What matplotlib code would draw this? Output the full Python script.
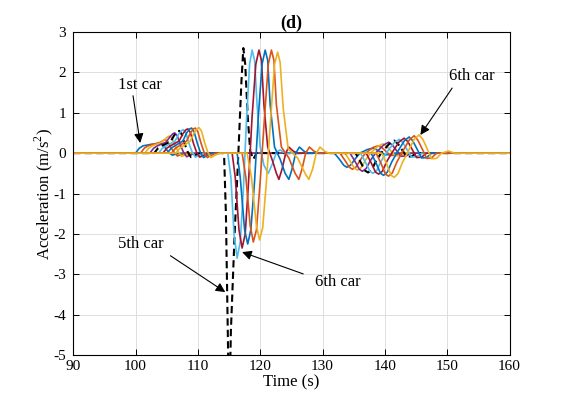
import numpy as np
import matplotlib
matplotlib.use('Agg')
import matplotlib.pyplot as plt

plt.rcParams['font.family'] = ['Liberation Serif', 'DejaVu Serif']
plt.rcParams['mathtext.fontset'] = 'custom'
plt.rcParams['mathtext.rm'] = 'Liberation Serif'
plt.rcParams['axes.unicode_minus'] = False

# acceleration traces, one (time, accel) list per car
t1 = [90, 100.0, 100.6, 101.2, 102.6, 103.2, 103.7, 104.0, 104.4, 104.9, 105.4, 105.9, 106.6, 107.3,
      131.9, 132.7, 133.4, 133.9, 134.5, 135.2, 136.0, 137.2, 138.0, 138.6, 139.4, 140.0, 140.8, 141.6, 160]
a1 = [0, 0, 0.12, 0.18, 0.22, 0.23, 0.245, 0.25, 0.21, 0.10, 0.01, -0.05, -0.02, 0,
      0, -0.15, -0.30, -0.35, -0.30, -0.15, 0, 0.09, 0.12, 0.09, 0.02, -0.04, -0.04, 0, 0]

t2 = [90, 100.8, 101.4, 102.0, 103.4, 104.0, 104.5, 104.8, 105.2, 105.7, 106.2, 106.7, 107.4, 108.1,
      132.8, 133.6, 134.3, 134.8, 135.4, 136.1, 136.9, 138.1, 138.9, 139.5, 140.3, 140.9, 141.7, 142.5, 160]
a2 = [0, 0, 0.12, 0.18, 0.24, 0.27, 0.32, 0.33, 0.28, 0.13, 0.02, -0.07, -0.03, 0,
      0, -0.18, -0.35, -0.40, -0.34, -0.16, 0, 0.14, 0.18, 0.14, 0.03, -0.06, -0.05, 0, 0]

t3 = [90, 101.5, 102.1, 102.7, 104.1, 104.7, 105.2, 105.5, 105.9, 106.4, 106.9, 107.4, 108.1, 108.8,
      133.6, 134.4, 135.1, 135.6, 136.2, 136.9, 137.7, 138.9, 139.7, 140.3, 141.1, 141.7, 142.5, 143.3, 160]
a3 = [0, 0, 0.12, 0.18, 0.26, 0.34, 0.41, 0.42, 0.36, 0.17, 0.02, -0.08, -0.04, 0,
      0, -0.19, -0.37, -0.42, -0.36, -0.17, 0, 0.17, 0.23, 0.17, 0.03, -0.07, -0.06, 0, 0]

t4 = [90, 102.3, 102.9, 103.5, 104.9, 105.5, 106.0, 106.3, 106.7, 107.2, 107.7, 108.2, 108.9, 109.6,
      134.4, 135.2, 135.9, 136.4, 137.0, 137.7, 138.5, 139.8, 140.6, 141.2, 142.0, 142.6, 143.4, 144.2, 160]
a4 = [0, 0, 0.12, 0.18, 0.27, 0.40, 0.48, 0.50, 0.43, 0.20, 0.02, -0.09, -0.04, 0,
      0, -0.20, -0.40, -0.45, -0.38, -0.18, 0, 0.20, 0.27, 0.20, 0.04, -0.08, -0.07, 0, 0]

t5 = [90, 103.0, 103.6, 104.2, 105.6, 106.2, 106.7, 107.0, 107.4, 107.9, 108.4, 108.9, 109.6, 110.3,
      114.2, 114.5, 114.8, 114.95, 115.1, 115.3, 115.9, 116.5, 117.0, 117.3, 117.6, 118.0, 118.4, 118.9, 119.6, 120.5,
      135.3, 136.1, 136.8, 137.3, 137.9, 138.6, 139.4, 140.7, 141.5, 142.1, 142.9, 143.5, 144.3, 145.1, 160]
a5 = [0, 0, 0.12, 0.18, 0.28, 0.44, 0.53, 0.55, 0.47, 0.22, 0.02, -0.10, -0.05, 0,
      0, -1.5, -4.4, -6.0, -6.0, -4.4, -2.0, 0, 1.8, 2.6, 2.2, 0.9, 0.05, -0.15, 0.05, 0,
      0, -0.22, -0.43, -0.48, -0.41, -0.19, 0, 0.23, 0.31, 0.23, 0.05, -0.09, -0.08, 0, 0]

t6 = [90, 103.7, 104.3, 104.9, 106.3, 106.9, 107.4, 107.7, 108.1, 108.6, 109.1, 109.6, 110.3, 111.0,
      114.8, 115.3, 115.8, 116.3, 116.8, 117.3, 117.8, 118.3, 118.7, 119.1, 119.5, 120.0, 120.6, 121.3, 122.0, 122.6, 123.2, 124.0,
      136.1, 136.9, 137.6, 138.1, 138.7, 139.4, 140.2, 141.5, 142.3, 142.9, 143.7, 144.3, 145.1, 145.9, 160]
a6 = [0, 0, 0.12, 0.18, 0.29, 0.46, 0.56, 0.58, 0.49, 0.23, 0.02, -0.10, -0.05, 0,
      0, -0.6, -2.0, -2.6, -2.2, -0.9, 0.8, 2.2, 2.55, 2.3, 1.2, 0.15, -0.3, -0.5, -0.25, 0.02, 0.08, 0,
      0, -0.23, -0.45, -0.50, -0.43, -0.20, 0, 0.26, 0.34, 0.26, 0.05, -0.10, -0.09, 0, 0]

t7 = [90, 104.4, 105.0, 105.6, 107.0, 107.6, 108.1, 108.4, 108.8, 109.3, 109.8, 110.3, 111.0, 111.7,
      115.5, 116.0, 116.6, 117.1, 117.6, 118.1, 118.7, 119.3, 119.8, 120.2, 120.6, 121.2, 122.0, 122.6, 123.0, 123.5, 124.1, 124.6, 125.3, 126.0,
      137.0, 137.8, 138.5, 139.0, 139.6, 140.3, 141.1, 142.3, 143.1, 143.7, 144.5, 145.1, 145.9, 146.7, 160]
a7 = [0, 0, 0.12, 0.18, 0.30, 0.48, 0.58, 0.60, 0.51, 0.24, 0.02, -0.10, -0.05, 0,
      0, -0.6, -1.9, -2.35, -2.0, -0.8, 0.9, 2.2, 2.55, 2.3, 1.2, 0.15, -0.2, -0.5, -0.65, -0.4, 0, 0.15, 0.05, 0,
      0, -0.24, -0.47, -0.52, -0.45, -0.21, 0, 0.28, 0.37, 0.28, 0.06, -0.11, -0.10, 0, 0]

t8 = [90, 105.1, 105.7, 106.3, 107.6, 108.2, 108.7, 109.0, 109.4, 109.9, 110.4, 110.9, 111.6, 112.3,
      116.3, 116.8, 117.5, 118.0, 118.5, 119.1, 119.7, 120.3, 120.8, 121.2, 121.6, 122.3, 123.2, 124.0, 124.6, 125.1, 125.7, 126.3, 127.0, 127.7,
      137.8, 138.6, 139.3, 139.8, 140.4, 141.1, 141.9, 143.1, 143.9, 144.5, 145.3, 145.9, 146.7, 147.5, 160]
a8 = [0, 0, 0.12, 0.18, 0.30, 0.50, 0.60, 0.62, 0.53, 0.25, 0.02, -0.11, -0.05, 0,
      0, -0.6, -1.9, -2.25, -1.9, -0.7, 0.9, 2.2, 2.55, 2.3, 1.2, 0.15, -0.15, -0.5, -0.65, -0.4, 0, 0.15, 0.05, 0,
      0, -0.25, -0.50, -0.55, -0.47, -0.22, 0, 0.30, 0.40, 0.30, 0.06, -0.12, -0.11, 0, 0]

t9 = [90, 105.8, 106.4, 107.0, 108.2, 108.8, 109.3, 109.6, 110.0, 110.5, 111.0, 111.5, 112.2, 112.9,
      117.1, 117.7, 118.4, 118.9, 119.4, 120.0, 120.7, 121.3, 121.8, 122.2, 122.6, 123.4, 124.6, 125.6, 126.2, 126.7, 127.3, 127.9, 128.6, 129.3,
      138.6, 139.4, 140.1, 140.6, 141.2, 141.9, 142.7, 143.9, 144.7, 145.3, 146.1, 146.7, 147.5, 148.3, 160]
a9 = [0, 0, 0.12, 0.18, 0.30, 0.50, 0.60, 0.62, 0.53, 0.25, 0.02, -0.11, -0.05, 0,
      0, -0.6, -1.8, -2.2, -1.9, -0.7, 0.9, 2.2, 2.55, 2.3, 1.2, 0.15, -0.12, -0.5, -0.65, -0.4, 0, 0.15, 0.05, 0,
      0, -0.26, -0.52, -0.57, -0.49, -0.23, 0, 0.32, 0.43, 0.32, 0.07, -0.13, -0.12, 0, 0]

t10 = [90, 106.5, 107.1, 107.7, 108.8, 109.4, 109.9, 110.2, 110.6, 111.1, 111.6, 112.1, 112.8, 113.5,
       117.9, 118.6, 119.4, 119.9, 120.4, 121.0, 121.7, 122.3, 122.8, 123.2, 123.7, 124.5, 126.0, 127.2, 127.8, 128.4, 129.0, 129.6, 130.3, 131.0,
       139.5, 140.3, 141.0, 141.5, 142.1, 142.8, 143.6, 144.7, 145.5, 146.1, 146.9, 147.5, 148.3, 149.1, 150.2, 151.2, 160]
a10 = [0, 0, 0.12, 0.18, 0.30, 0.50, 0.61, 0.63, 0.54, 0.25, 0.02, -0.11, -0.05, 0,
       0, -0.6, -1.8, -2.15, -1.85, -0.7, 0.9, 2.2, 2.5, 2.25, 1.1, 0.1, -0.12, -0.5, -0.65, -0.4, 0, 0.15, 0.05, 0,
       0, -0.27, -0.55, -0.60, -0.51, -0.24, 0, 0.34, 0.45, 0.34, 0.07, -0.14, -0.13, 0, 0.05, 0, 0]

times = [t1, t2, t3, t4, t5, t6, t7, t8, t9, t10]
accels = [a1, a2, a3, a4, a5, a6, a7, a8, a9, a10]
colors = ['#0072BD', '#D95319', '#EDB120', '#7E2F8E', 'k',
          '#4DBEEE', '#A2142F', '#0072BD', '#D95319', '#EDB120']

fig = plt.figure(figsize=(5.63, 3.99), dpi=100)
ax = fig.add_axes([0.13, 0.11, 0.775, 0.81])

# cars drawn in order so the last car sits on top along the zero line
for i in range(10):
    if i == 4:
        ax.plot(times[i], accels[i], color='k', lw=1.5, ls=(0, (3.5, 2)))
    else:
        ax.plot(times[i], accels[i], color=colors[i], lw=1.2)

ax.set_xlim(90, 160)
ax.set_ylim(-5, 3)
ax.set_xticks(np.arange(90, 161, 10))
ax.set_yticks(np.arange(-5, 4, 1))
ax.grid(True, color='#dedede', lw=0.7)
ax.set_axisbelow(True)
ax.tick_params(direction='in', top=True, right=True, labelsize=11, length=4, width=0.7)
ax.tick_params(axis='y', pad=5)
for s in ax.spines.values():
    s.set_linewidth(0.8)
ax.set_xlabel('Time (s)', fontsize=12, labelpad=1)
ax.set_ylabel('Acceleration (m/s$^2$)', fontsize=12, labelpad=-1)
ax.set_title('(d)', fontsize=13, fontweight='bold', pad=3)

arr = dict(arrowstyle='-|>', color='k', lw=0.8, mutation_scale=14, shrinkA=0, shrinkB=0)
ax.text(100.75, 1.69, '1st car', fontsize=12, ha='center', va='center')
ax.annotate('', xy=(100.75, 0.25), xytext=(99.6, 1.42), arrowprops=arr)
ax.text(154.0, 1.91, '6th car', fontsize=12, ha='center', va='center')
ax.annotate('', xy=(145.7, 0.45), xytext=(150.8, 1.61), arrowprops=arr)
ax.text(100.9, -2.25, '5th car', fontsize=12, ha='center', va='center')
ax.annotate('', xy=(114.4, -3.44), xytext=(105.6, -2.54), arrowprops=arr)
ax.text(132.4, -3.19, '6th car', fontsize=12, ha='center', va='center')
ax.annotate('', xy=(117.1, -2.45), xytext=(126.9, -2.99), arrowprops=arr)

fig.savefig('out.png', dpi=100)
